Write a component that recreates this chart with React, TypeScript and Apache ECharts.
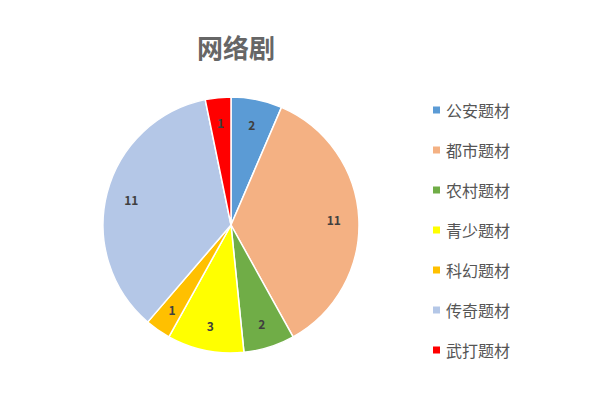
import React, { useEffect, useRef } from "react";
import * as echarts from "echarts";

const categories = ["公安题材", "都市题材", "农村题材", "青少题材", "科幻题材", "传奇题材", "武打题材"];
const counts = [2, 11, 2, 3, 1, 11, 1];
const colors = ["#5B9BD5", "#F4B183", "#70AD47", "#FFFF00", "#FFC000", "#B4C7E7", "#FF0000"];

const FONT = "'Noto Sans CJK SC', 'Noto Sans', sans-serif";

const App: React.FC = () => {
  const chartRef = useRef<HTMLDivElement>(null);

  useEffect(() => {
    document.body.style.margin = "0";
    if (!chartRef.current) return;
    const chart = echarts.init(chartRef.current, undefined, { renderer: "svg" });

    const pieData = categories.map((name, i) => ({
      name,
      value: counts[i],
      itemStyle: { color: colors[i] },
    }));

    chart.setOption({
      animation: false,
      backgroundColor: "#ffffff",
      title: {
        text: "网络剧",
        left: 231,
        top: 28,
        textAlign: "center",
        textStyle: { fontFamily: FONT, fontSize: 26, fontWeight: "bold", color: "#666666" },
      },
      legend: {
        orient: "vertical",
        left: 426,
        top: 97,
        icon: "rect",
        itemWidth: 9,
        itemHeight: 9,
        itemGap: 24,
        data: categories,
        textStyle: { fontFamily: FONT, fontSize: 16, color: "#555555" },
      },
      series: [
        {
          type: "pie",
          center: [231, 225],
          radius: [0, 128],
          startAngle: 90,
          clockwise: true,
          data: pieData,
          itemStyle: { borderColor: "#ffffff", borderWidth: 1.5 },
          label: { show: false },
          labelLine: { show: false },
        },
        {
          // label ring so the numbers sit near the rim as in the reference
          type: "pie",
          center: [231, 225],
          radius: [72, 128],
          startAngle: 90,
          clockwise: true,
          silent: true,
          data: categories.map((name, i) => ({ name, value: counts[i] })),
          itemStyle: { color: "rgba(0,0,0,0)" },
          label: {
            show: true,
            position: "inside",
            formatter: "{c}",
            fontFamily: FONT,
            fontSize: 12,
            fontWeight: "bold",
            color: "#404040",
          },
          labelLine: { show: false },
        },
      ],
    });

    return () => {
      chart.dispose();
    };
  }, []);

  return <div ref={chartRef} style={{ width: "600px", height: "400px" }} />;
};

export default App;
